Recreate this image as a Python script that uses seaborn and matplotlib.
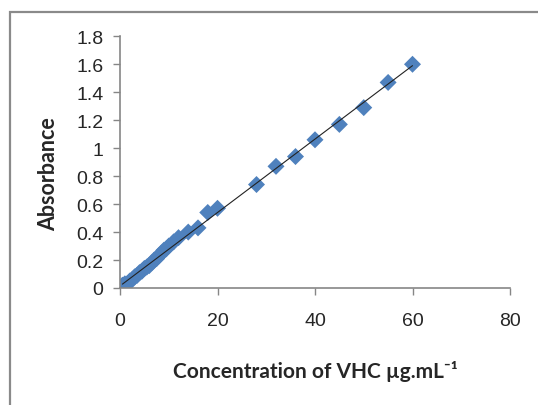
import matplotlib
matplotlib.use('Agg')
import matplotlib.pyplot as plt
import seaborn as sns
import pandas as pd
from matplotlib.patches import Rectangle

# 濃度 (µg/mL) と吸光度
conc = [0.5, 1, 1.5, 2, 2.5, 3, 3.5, 4, 4.5, 5, 5.5, 6, 6.5, 7, 7.5, 8, 8.5, 9, 9.5, 10, 11,
        12, 14, 16, 18, 20, 28, 32, 36, 40, 45, 50, 55, 60]
absorb = [0.02, 0.03, 0.03, 0.05, 0.06, 0.08, 0.09, 0.11, 0.12, 0.14, 0.15, 0.16, 0.18, 0.20,
          0.21, 0.23, 0.25, 0.27, 0.28, 0.30, 0.33,
          0.36, 0.40, 0.43, 0.54, 0.57, 0.74, 0.87, 0.94, 1.06, 1.17, 1.29, 1.47, 1.60]

xticks = [0, 20, 40, 60, 80]
yticks = [0, 0.2, 0.4, 0.6, 0.8, 1.0, 1.2, 1.4, 1.6, 1.8]
ytick_labels = ['0', '0.2', '0.4', '0.6', '0.8', '1', '1.2', '1.4', '1.6', '1.8']

df = pd.DataFrame({'conc': conc, 'abs': absorb})

sns.set_style('ticks')
plt.rcParams['font.family'] = ['Liberation Sans', 'DejaVu Sans']

fig = plt.figure(figsize=(5.38, 4.06), dpi=100)
ax = fig.add_axes([120 / 538, 1 - 289 / 406, 390 / 538, (289 - 37.3) / 406])

# 外枠
fig.patches.append(Rectangle((10 / 538, -0.1), 1.2, 1.1 - 13 / 406, transform=fig.transFigure,
                             fill=False, edgecolor='#8a8a8a', linewidth=1.6, zorder=0))

sns.scatterplot(data=df, x='conc', y='abs', marker='D', s=75, color='#4F81BD',
                edgecolor='none', ax=ax, zorder=2)
sns.regplot(data=df, x='conc', y='abs', scatter=False, ci=None, ax=ax,
            line_kws={'color': '#222222', 'linewidth': 0.8, 'zorder': 3})

ax.set_xlim(0, 80)
ax.set_ylim(0, 1.8)
ax.set_xticks(xticks)
ax.set_yticks(yticks)
ax.set_yticklabels(ytick_labels)
ax.tick_params(axis='both', labelsize=14, color='#868686', length=5, width=1)
ax.tick_params(axis='x', pad=12)
ax.tick_params(axis='y', pad=7)
for side in ['top', 'right']:
    ax.spines[side].set_visible(False)
for side in ['left', 'bottom']:
    ax.spines[side].set_color('#868686')
    ax.spines[side].set_linewidth(1.2)

ax.set_xlabel('Concentration of VHC µg.mL\u207b\u00b9', fontsize=15, fontweight='bold',
              family=['Lato', 'DejaVu Sans'])
ax.set_ylabel('Absorbance', fontsize=15.5, fontweight='bold', family=['Lato', 'DejaVu Sans'])
ax.xaxis.set_label_coords(0.5, -0.285)
ax.yaxis.set_label_coords(-0.155, 0.456)

plt.savefig('out.png', dpi=100)
